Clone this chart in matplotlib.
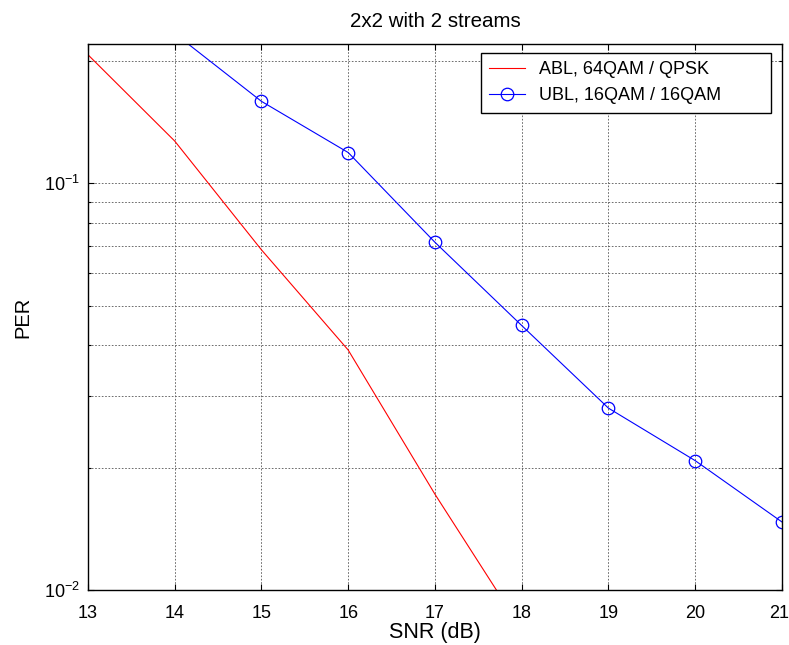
import matplotlib
matplotlib.use("Agg")
import matplotlib.pyplot as plt
import matplotlib.transforms as mtransforms
from matplotlib.ticker import LogLocator, NullFormatter

plt.rcParams['font.family'] = ['Liberation Sans', 'DejaVu Sans']

# data
snr_abl = [13, 14, 15, 16, 17, 18]
per_abl = [0.207, 0.127, 0.0686, 0.0389, 0.0172, 0.0080]

snr_ubl = [14, 15, 16, 17, 18, 19, 20, 21]
per_ubl = [0.2335, 0.159, 0.119, 0.0716, 0.0447, 0.0280, 0.0208, 0.0147]

xticks = [13, 14, 15, 16, 17, 18, 19, 20, 21]

fig = plt.figure(figsize=(7.89, 6.45), dpi=100)
ax = fig.add_axes([0.1115, 0.0853, 0.8795, 0.8465])

ax.plot(snr_abl, per_abl, color='#ff0000', lw=0.8, label='ABL, 64QAM / QPSK')
ax.plot(snr_ubl, per_ubl, color='#0000ff', lw=0.8, marker='o', ms=9,
        mfc='none', mec='#0000ff', mew=0.9, label='UBL, 16QAM / 16QAM')

ax.set_yscale('log')
ax.set_xlim(13, 21)
ax.set_ylim(0.01, 0.22)
ax.set_xticks(xticks)
ax.set_xticklabels([str(t) for t in xticks])
ax.yaxis.set_major_locator(LogLocator(base=10, numticks=10))
ax.yaxis.set_minor_locator(LogLocator(base=10, subs=range(2, 10), numticks=20))
ax.yaxis.set_minor_formatter(NullFormatter())

ax.grid(True, which='major', color='#555555', ls=(0, (2, 2)), lw=0.6)
ax.grid(True, which='minor', axis='y', color='#555555', ls=(0, (2, 2)), lw=0.6)

ax.tick_params(which='both', direction='in', top=True, right=True,
               labelsize=13, length=4, width=0.8)
ax.tick_params(which='minor', length=2.5)
ax.tick_params(axis='x', pad=11)
ax.tick_params(axis='y', pad=6)
for s in ax.spines.values():
    s.set_linewidth(1.0)

# last x label sits a little inside the figure edge
last = ax.get_xticklabels()[-1]
last.set_transform(last.get_transform() +
                   mtransforms.ScaledTranslation(-3 / 100, 0, fig.dpi_scale_trans))

ax.set_title('2x2 with 2 streams', fontsize=14.8, pad=12)
ax.set_xlabel('SNR (dB)', fontsize=15.5, labelpad=0)
ax.set_ylabel('PER', fontsize=14.5, labelpad=8)

leg = ax.legend(loc='upper left', bbox_to_anchor=(0.566, 0.877, 0.418, 0.106),
                mode='expand', fontsize=13, fancybox=False, framealpha=1,
                edgecolor='black', borderaxespad=0, handlelength=2.0,
                handletextpad=0.75, borderpad=0.45, labelspacing=0.5)
leg.get_frame().set_linewidth(1.0)

fig.savefig('out.png', dpi=100)
